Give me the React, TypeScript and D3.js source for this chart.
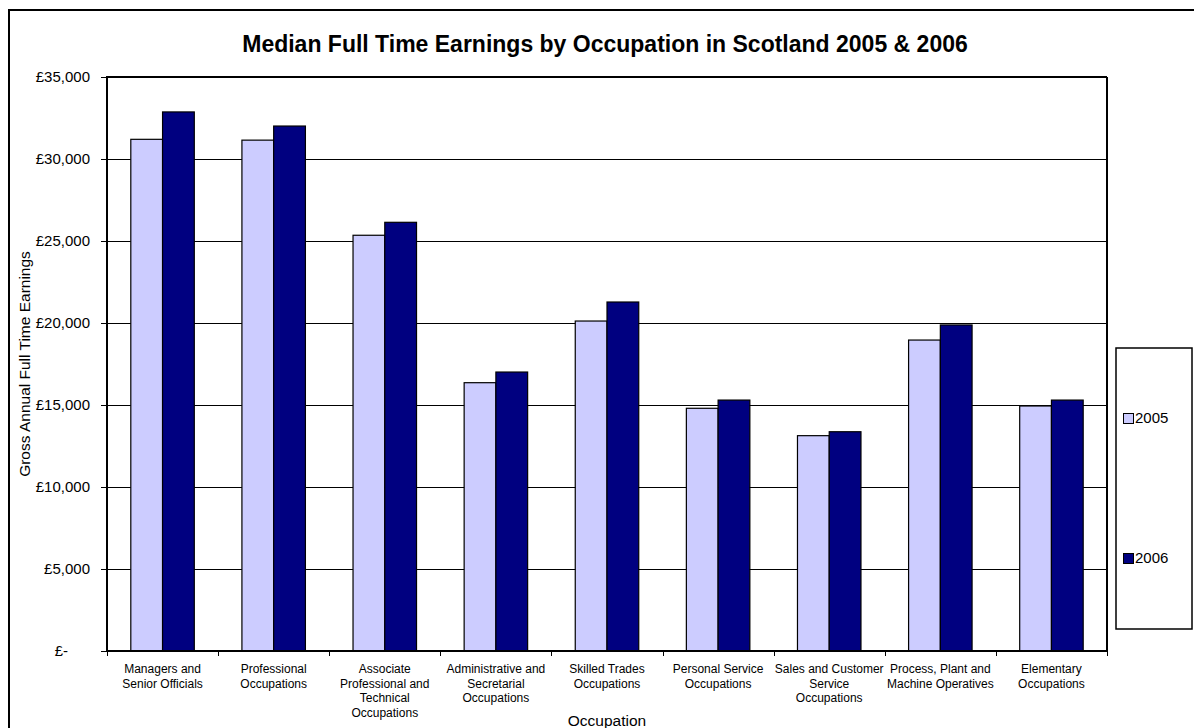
import React from "react";
import * as d3 from "d3";

const categories: string[] = [
  "Managers and\nSenior Officials",
  "Professional\nOccupations",
  "Associate\nProfessional and\nTechnical\nOccupations",
  "Administrative and\nSecretarial\nOccupations",
  "Skilled Trades\nOccupations",
  "Personal Service\nOccupations",
  "Sales and Customer\nService\nOccupations",
  "Process, Plant and\nMachine Operatives",
  "Elementary\nOccupations",
];
const values2005: number[] = [31200, 31150, 25350, 16360, 20120, 14800, 13130, 18960, 14940];
const values2006: number[] = [32870, 32010, 26140, 17010, 21280, 15300, 13370, 19880, 15300];
const seriesNames: string[] = ["2005", "2006"];
const seriesColors: string[] = ["#CCCCFF", "#000080"];
const yTicks: number[] = [0, 5000, 10000, 15000, 20000, 25000, 30000, 35000];

const W = 1194;
const H = 728;
const FONT = "Arial, 'Liberation Sans', Helvetica, sans-serif";

export default function App() {
  const left = 107, right = 1107, top = 77, bottom = 651;
  const x0 = d3.scaleBand<number>().domain(d3.range(categories.length)).range([left, right]).paddingInner(0).paddingOuter(0);
  const bw = x0.bandwidth() / 3.5;
  const y = d3.scaleLinear().domain([0, 35000]).range([bottom, top]);
  const fmt = (v: number) => (v === 0 ? "£-" : "£" + d3.format(",")(v));
  const series = [values2005, values2006];
  const crisp = (v: number) => Math.round(v) + 0.5;

  return (
    <svg width={W} height={H} style={{ position: "absolute", left: 0, top: 0, background: "#fff" }} fontFamily={FONT}>
      <rect x={0} y={0} width={W} height={H} fill="#fff" />
      {/* outer border */}
      <rect x={9} y={10} width={1200} height={740} fill="none" stroke="#000" strokeWidth={2} />
      {/* title */}
      <text x={605} y={52} textAnchor="middle" fontSize={23} fontWeight="bold" fill="#000">
        Median Full Time Earnings by Occupation in Scotland 2005 &amp; 2006
      </text>
      {/* gridlines */}
      {yTicks.filter((t) => t > 0 && t < 35000).map((t) => (
        <line key={"g" + t} x1={left} x2={right} y1={crisp(y(t))} y2={crisp(y(t))} stroke="#000" strokeWidth={1} />
      ))}
      {/* bars */}
      {series.map((vals, s) =>
        vals.map((v, i) => {
          const bx = (x0(i) as number) + 0.75 * bw + s * bw;
          return (
            <rect key={`b${s}-${i}`} x={bx} y={y(v)} width={bw} height={y(0) - y(v)}
              fill={seriesColors[s]} stroke="#000" strokeWidth={1.2} />
          );
        })
      )}
      {/* plot frame */}
      <line x1={left} x2={right} y1={top} y2={top} stroke="#000" strokeWidth={2} />
      <line x1={right} x2={right} y1={top} y2={bottom} stroke="#000" strokeWidth={2} />
      <line x1={left} x2={left} y1={top - 1} y2={bottom + 1} stroke="#000" strokeWidth={2} />
      <line x1={left - 1} x2={right + 1} y1={bottom} y2={bottom} stroke="#000" strokeWidth={2} />
      {/* y ticks */}
      {yTicks.map((t) => (
        <g key={"yt" + t}>
          <line x1={left - 6} x2={left} y1={crisp(y(t))} y2={crisp(y(t))} stroke="#000" strokeWidth={1} />
          <text x={t === 0 ? 68 : 90} y={y(t)} dy="0.35em" textAnchor="end" fontSize={15} fill="#000">
            {fmt(t)}
          </text>
        </g>
      ))}
      {/* x ticks */}
      {d3.range(categories.length + 1).map((i) => {
        const xx = crisp(left + i * x0.bandwidth());
        return <line key={"xt" + i} x1={xx} x2={xx} y1={bottom} y2={bottom + 5} stroke="#000" strokeWidth={1} />;
      })}
      {/* x labels */}
      {categories.map((c, i) => {
        const cx = (x0(i) as number) + x0.bandwidth() / 2;
        return (
          <text key={"xl" + i} x={cx} y={673} textAnchor="middle" fontSize={12} fill="#000">
            {c.split("\n").map((ln, k) => (
              <tspan key={k} x={cx} dy={k === 0 ? 0 : 14.7}>{ln}</tspan>
            ))}
          </text>
        );
      })}
      {/* axis titles */}
      <text x={(left + right) / 2} y={726} textAnchor="middle" fontSize={15.5} fill="#000">Occupation</text>
      <text transform={`translate(30, ${(top + bottom) / 2}) rotate(-90)`} textAnchor="middle" fontSize={15.5} fill="#000">
        Gross Annual Full Time Earnings
      </text>
      {/* legend */}
      <rect x={1116} y={348} width={76} height={281} fill="#fff" stroke="#000" strokeWidth={1.5} />
      {seriesNames.map((n, s) => {
        const ly = s === 0 ? 418 : 558;
        return (
          <g key={"lg" + n}>
            <rect x={1123.5} y={ly - 4.5} width={10} height={10} fill={seriesColors[s]} stroke="#000" strokeWidth={1} />
            <text x={1135} y={ly} dy="0.35em" fontSize={15} fill="#000">{n}</text>
          </g>
        );
      })}
    </svg>
  );
}
